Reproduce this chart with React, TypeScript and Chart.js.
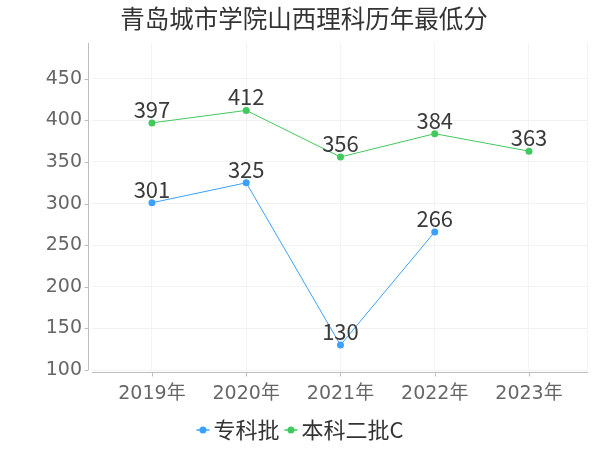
import React, { useEffect, useRef } from "react";
import { Chart, registerables } from "chart.js";
Chart.register(...registerables);

const titleText = "青岛城市学院山西理科历年最低分";
const years = ["2019年", "2020年", "2021年", "2022年", "2023年"];
const zhuanke: (number | null)[] = [301, 325, 130, 266, null];
const benke2c: (number | null)[] = [397, 412, 356, 384, 363];
const yTicks = [100, 150, 200, 250, 300, 350, 400, 450];
const seriesNames = ["专科批", "本科二批C"];
const colors = ["#3ba1ff", "#41c95d"];

const toPoints = (arr: (number | null)[]) =>
  arr.map((v, i) => (v === null ? null : { x: i, y: v })).filter((p) => p !== null);

const CJK = '"Noto Sans CJK SC", sans-serif';
const TICKF = '"DejaVu Sans", "Noto Sans CJK SC", sans-serif';

const axesPlugin = {
  id: "axesPlugin",
  beforeDatasetsDraw(chart: any) {
    const { ctx, chartArea } = chart;
    const xs = chart.scales.x;
    const ys = chart.scales.y;
    ctx.save();
    ctx.strokeStyle = "#bdbdbd";
    ctx.lineWidth = 1;
    const ax = Math.round(chartArea.left - 4) + 0.5;
    ctx.beginPath();
    ctx.moveTo(ax, chartArea.top);
    ctx.lineTo(ax, chartArea.bottom);
    ctx.stroke();
    yTicks.forEach((v) => {
      const y = Math.round(ys.getPixelForValue(v)) + 0.5;
      ctx.beginPath();
      ctx.moveTo(ax - 4, y);
      ctx.lineTo(ax, y);
      ctx.stroke();
    });
    const ay = Math.round(chartArea.bottom + 2) + 0.5;
    ctx.beginPath();
    ctx.moveTo(chartArea.left, ay);
    ctx.lineTo(chartArea.right, ay);
    ctx.stroke();
    years.forEach((_, i) => {
      const x = Math.round(xs.getPixelForValue(i)) + 0.5;
      ctx.beginPath();
      ctx.moveTo(x, ay);
      ctx.lineTo(x, ay + 4);
      ctx.stroke();
    });
    ctx.strokeStyle = "#f3f3f3";
    ctx.beginPath();
    ctx.moveTo(Math.round(chartArea.right) - 0.5, chartArea.top);
    ctx.lineTo(Math.round(chartArea.right) - 0.5, chartArea.bottom);
    ctx.stroke();
    ctx.restore();
  },
  afterDatasetsDraw(chart: any) {
    const { ctx } = chart;
    ctx.save();
    ctx.font = `22px ${CJK}`;
    ctx.fillStyle = "#3a3a3a";
    ctx.textAlign = "center";
    ctx.textBaseline = "alphabetic";
    chart.data.datasets.forEach((ds: any, di: number) => {
      const meta = chart.getDatasetMeta(di);
      meta.data.forEach((pt: any, i: number) => {
        const v = ds.data[i].y;
        ctx.fillText(String(v), pt.x, pt.y - 5);
      });
    });
    ctx.restore();
  },
  afterDraw(chart: any) {
    const { ctx } = chart;
    ctx.save();
    // title
    ctx.font = `24.5px ${CJK}`;
    ctx.fillStyle = "#333";
    ctx.textAlign = "center";
    ctx.textBaseline = "middle";
    ctx.fillText(titleText, 304, 19);
    // legend
    ctx.font = `22px ${CJK}`;
    const markerW = 13;
    const gapMT = 4;
    const gapItems = 5;
    const widths = seriesNames.map((n) => ctx.measureText(n).width);
    const total =
      widths.reduce((a, b) => a + b, 0) + seriesNames.length * (markerW + gapMT) + gapItems * (seriesNames.length - 1);
    let x = 300 - total / 2;
    const cy = 430;
    seriesNames.forEach((n, i) => {
      ctx.strokeStyle = colors[i];
      ctx.fillStyle = colors[i];
      ctx.lineWidth = 1.5;
      ctx.beginPath();
      ctx.moveTo(x, cy);
      ctx.lineTo(x + markerW, cy);
      ctx.stroke();
      ctx.beginPath();
      ctx.arc(x + markerW / 2, cy, 3.5, 0, Math.PI * 2);
      ctx.fill();
      x += markerW + gapMT;
      ctx.fillStyle = "#333";
      ctx.textAlign = "left";
      ctx.textBaseline = "middle";
      ctx.fillText(n, x, cy);
      x += widths[i] + gapItems;
    });
    ctx.restore();
  },
};

export default function App() {
  const ref = useRef<HTMLCanvasElement>(null);
  useEffect(() => {
    if (!ref.current) return;
    const chart = new Chart(ref.current, {
      type: "line",
      data: {
        datasets: [
          {
            label: seriesNames[0],
            data: toPoints(zhuanke) as any,
            borderColor: colors[0],
            backgroundColor: colors[0],
            pointBackgroundColor: colors[0],
            borderWidth: 1,
            pointRadius: 3.5,
            pointBorderWidth: 0,
            tension: 0,
          },
          {
            label: seriesNames[1],
            data: toPoints(benke2c) as any,
            borderColor: colors[1],
            backgroundColor: colors[1],
            pointBackgroundColor: colors[1],
            borderWidth: 1,
            pointRadius: 3.5,
            pointBorderWidth: 0,
            tension: 0,
          },
        ],
      },
      options: {
        responsive: false,
        animation: false,
        layout: { padding: { left: 0, right: 12, top: 43, bottom: 42 } },
        plugins: {
          legend: { display: false },
          tooltip: { enabled: false },
          title: { display: false },
        },
        scales: {
          x: {
            type: "linear",
            min: -0.636,
            max: 4.626,
            afterBuildTicks: (s: any) => {
              s.ticks = years.map((_, i) => ({ value: i }));
            },
            afterFit: (s: any) => {
              s.height = 38;
            },
            ticks: {
              callback: (v: any) => years[v as number] ?? "",
              color: "#666",
              font: { family: TICKF, size: 19 },
              padding: 13,
              maxRotation: 0,
              autoSkip: false,
            },
            grid: { color: "#f4f4f4", drawTicks: false },
            border: { display: false },
          },
          y: {
            type: "linear",
            min: 100,
            max: 493,
            afterBuildTicks: (s: any) => {
              s.ticks = yTicks.map((v) => ({ value: v }));
            },
            afterFit: (s: any) => {
              s.width = 92;
            },
            ticks: {
              color: "#666",
              font: { family: TICKF, size: 19 },
              padding: 10,
            },
            grid: { color: "#f2f2f2", drawTicks: false },
            border: { display: false },
          },
        },
      },
      plugins: [axesPlugin],
    });
    return () => chart.destroy();
  }, []);
  return (
    <div style={{ position: "fixed", left: 0, top: 0, width: 600, height: 450, background: "#fff" }}>
      <canvas ref={ref} width={600} height={450} style={{ display: "block" }} />
    </div>
  );
}
